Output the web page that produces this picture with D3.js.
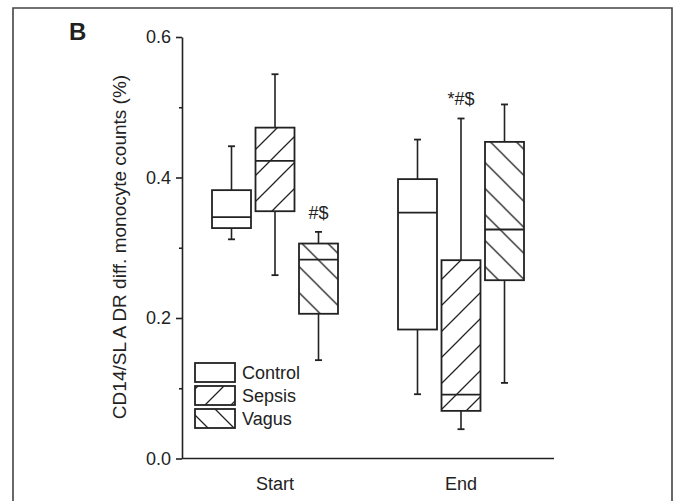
<!DOCTYPE html>
<html>
<head>
<meta charset="utf-8">
<script src="https://cdn.jsdelivr.net/npm/d3@7"></script>
<style>
  body { margin: 0; background: #fff; }
  text { font-family: "Liberation Sans", Arial, sans-serif; fill: #222; }
</style>
</head>
<body>
<div id="chart"></div>
<script>
// categories and series
const categories = ["Start", "End"];
const seriesNames = ["Control", "Sepsis", "Vagus"];
// box stats per category: [whisker low, q1, median, q3, whisker high]
const controlStats = [[0.312, 0.328, 0.3435, 0.382, 0.4445], [0.0915, 0.1836, 0.350, 0.3977, 0.454]];
const sepsisStats  = [[0.261, 0.352, 0.4236, 0.471, 0.547], [0.0417, 0.0678, 0.091, 0.2823, 0.484]];
const vagusStats   = [[0.140, 0.206, 0.283, 0.306, 0.3226], [0.1076, 0.2538, 0.326, 0.4507, 0.504]];
const majorTicks = [0.0, 0.2, 0.4, 0.6];
const minorTicks = [0.1, 0.3, 0.5];
const annotations = [
  { category: "Start", series: "Vagus", text: "#$" },
  { category: "End", series: "Sepsis", text: "*#$" }
];

const W = 675, H = 501;
const svg = d3.select("#chart").append("svg")
  .attr("width", W).attr("height", H);

// hatch patterns
const defs = svg.append("defs");
function hatch(id, dir) {
  const s = 26;
  const p = defs.append("pattern")
    .attr("id", id)
    .attr("patternUnits", "userSpaceOnUse")
    .attr("width", s).attr("height", s);
  const d = dir === "up"
    ? `M0,${s} L${s},0 M${-s/2},${s/2} L${s/2},${-s/2} M${s/2},${s*1.5} L${s*1.5},${s/2}`
    : `M0,0 L${s},${s} M${-s/2},${s/2} L${s/2},${s*1.5} M${s/2},${-s/2} L${s*1.5},${s/2}`;
  p.append("path").attr("d", d)
    .attr("stroke", "#222").attr("stroke-width", 1.3).attr("fill", "none");
}
hatch("hatchUp", "up");
hatch("hatchDown", "down");
const fills = { Control: "#fff", Sepsis: "url(#hatchUp)", Vagus: "url(#hatchDown)" };
const statsBySeries = { Control: controlStats, Sepsis: sepsisStats, Vagus: vagusStats };

// outer frame
svg.append("path")
  .attr("d", `M13,${H} V8 H672 V${H}`)
  .attr("fill", "none").attr("stroke", "#444").attr("stroke-width", 1.6);

// panel letter
svg.append("text")
  .attr("x", 69).attr("y", 40)
  .style("font-size", "24px").style("font-weight", "bold")
  .text("B");

// scales
const y = d3.scaleLinear().domain([0, 0.6]).range([458.5, 37]);
const x = d3.scalePoint().domain(categories).range([182, 554]).padding(0.5);
const sub = d3.scalePoint().domain(seriesNames).range([-43.5, 43.5]);
const boxW = 39;

// y axis
const yAxis = svg.append("g")
  .attr("transform", "translate(182,0)")
  .call(d3.axisLeft(y).tickValues(majorTicks).tickFormat(d3.format(".1f"))
    .tickSize(6).tickSizeOuter(0).tickPadding(5));
yAxis.select(".domain").attr("stroke", "#222").attr("stroke-width", 1.6);
yAxis.selectAll(".tick line").attr("stroke", "#222").attr("stroke-width", 1.6);
yAxis.selectAll(".tick text")
  .style("font-size", "18px").style("font-family", "Liberation Sans, Arial, sans-serif")
  .attr("fill", "#222");

svg.append("g")
  .attr("transform", "translate(182,0)")
  .call(d3.axisLeft(y).tickValues(minorTicks).tickFormat("").tickSize(3).tickSizeOuter(0))
  .call(g => g.select(".domain").remove())
  .selectAll(".tick line").attr("stroke", "#222").attr("stroke-width", 1.6);

// x axis line
svg.append("line")
  .attr("x1", 182).attr("x2", 554)
  .attr("y1", y(0)).attr("y2", y(0))
  .attr("stroke", "#222").attr("stroke-width", 1.6);

// category labels
svg.selectAll(".cat")
  .data(categories).enter().append("text")
  .attr("x", d => x(d)).attr("y", 490)
  .attr("text-anchor", "middle")
  .style("font-size", "18px")
  .text(d => d);

// y label
svg.append("text")
  .attr("transform", "translate(126,247) rotate(-90)")
  .attr("text-anchor", "middle")
  .style("font-size", "19px")
  .text("CD14/SL A DR diff. monocyte counts (%)");

// boxes
const boxes = [];
categories.forEach((c, ci) => {
  seriesNames.forEach(s => {
    const st = statsBySeries[s][ci];
    boxes.push({ category: c, series: s, lo: st[0], q1: st[1], med: st[2], q3: st[3], hi: st[4] });
  });
});

const g = svg.selectAll(".box").data(boxes).enter().append("g")
  .attr("transform", d => `translate(${x(d.category) + sub(d.series)},0)`);

g.append("line")
  .attr("x1", 0).attr("x2", 0)
  .attr("y1", d => y(d.hi)).attr("y2", d => y(d.q3))
  .attr("stroke", "#222").attr("stroke-width", 1.6);
g.append("line")
  .attr("x1", 0).attr("x2", 0)
  .attr("y1", d => y(d.q1)).attr("y2", d => y(d.lo))
  .attr("stroke", "#222").attr("stroke-width", 1.6);
g.append("line")
  .attr("x1", -3.5).attr("x2", 3.5)
  .attr("y1", d => y(d.hi)).attr("y2", d => y(d.hi))
  .attr("stroke", "#222").attr("stroke-width", 1.8);
g.append("line")
  .attr("x1", -3.5).attr("x2", 3.5)
  .attr("y1", d => y(d.lo)).attr("y2", d => y(d.lo))
  .attr("stroke", "#222").attr("stroke-width", 1.8);
g.append("rect")
  .attr("x", -boxW / 2).attr("width", boxW)
  .attr("y", d => y(d.q3)).attr("height", d => y(d.q1) - y(d.q3))
  .attr("fill", d => fills[d.series])
  .attr("stroke", "#222").attr("stroke-width", 1.8);
g.append("line")
  .attr("x1", -boxW / 2).attr("x2", boxW / 2)
  .attr("y1", d => y(d.med)).attr("y2", d => y(d.med))
  .attr("stroke", "#222").attr("stroke-width", 1.8);

// significance marks
annotations.forEach(a => {
  const b = boxes.find(d => d.category === a.category && d.series === a.series);
  svg.append("text")
    .attr("x", x(a.category) + sub(a.series))
    .attr("y", y(b.hi) - 13)
    .attr("text-anchor", "middle")
    .style("font-size", "18px")
    .text(a.text);
});

// legend
const legend = svg.append("g").attr("transform", "translate(195,363)");
seriesNames.forEach((s, i) => {
  legend.append("rect")
    .attr("x", 0).attr("y", i * 23)
    .attr("width", 40).attr("height", 19)
    .attr("fill", fills[s])
    .attr("stroke", "#222").attr("stroke-width", 1.8);
  legend.append("text")
    .attr("x", 47).attr("y", i * 23 + 9.5)
    .attr("dy", "0.35em")
    .style("font-size", "18px")
    .text(s);
});
</script>
</body>
</html>
